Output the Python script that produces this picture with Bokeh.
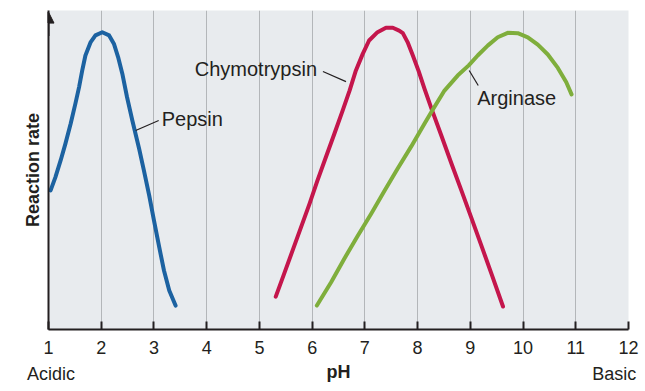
from bokeh.plotting import figure
from bokeh.models import Label, FixedTicker, Arrow, NormalHead, Range1d
from bokeh.embed import file_html
from bokeh.resources import INLINE

# pH values and reaction rates (arbitrary units 0-100)
pepsin_ph = [1.04, 1.13, 1.23, 1.32, 1.42, 1.51, 1.58, 1.64, 1.70, 1.80, 1.89, 2.02, 2.15, 2.24,
             2.32, 2.40, 2.49, 2.59, 2.72, 2.81, 2.91, 3.00, 3.10, 3.19, 3.29, 3.41]
pepsin_rate = [43.6, 47.7, 53.0, 58.2, 64.5, 70.8, 76.0, 81.2, 85.9, 90.1, 92.2, 93.2, 92.2, 89.6,
               85.4, 80.2, 72.8, 65.5, 56.6, 49.8, 42.0, 34.2, 25.8, 18.5, 12.2, 7.5]

chymo_ph = [5.31, 5.47, 5.63, 5.79, 5.95, 6.10, 6.26, 6.42, 6.58, 6.71, 6.83, 6.96, 7.08, 7.24, 7.40,
            7.53, 7.65, 7.72, 7.81, 7.91, 8.02, 8.13, 8.27, 8.45, 8.64, 8.83, 9.02, 9.21, 9.40, 9.62]
chymo_rate = [10.3, 17.5, 24.8, 32.1, 39.4, 46.7, 54.0, 61.3, 68.7, 74.9, 81.2, 86.4, 90.6, 93.2, 94.6,
              94.6, 93.7, 92.9, 90.1, 85.9, 81.0, 75.5, 68.9, 60.8, 52.1, 43.6, 35.0, 26.3, 17.5, 7.2]

arg_ph = [6.09, 6.36, 6.61, 6.86, 7.12, 7.37, 7.62, 7.88, 8.13, 8.27, 8.51, 8.76, 8.97, 9.14, 9.33,
          9.52, 9.71, 9.90, 10.09, 10.28, 10.47, 10.66, 10.82, 10.92]
arg_rate = [7.5, 14.8, 22.2, 29.2, 36.3, 43.4, 50.4, 57.4, 64.5, 68.4, 74.9, 79.6, 82.8, 85.9, 89.0,
            91.6, 93.0, 92.9, 91.6, 89.3, 86.2, 82.0, 77.5, 73.7]

ph_ticks = [1, 2, 3, 4, 5, 6, 7, 8, 9, 10, 11, 12]
grid_ticks = [2, 3, 4, 5, 6, 7, 8, 9, 10, 11, 12]
low_end = "Acidic"
high_end = "Basic"
high_end_pos = 11.73   # centre of the "Basic" caption under the axis

FONT = "Liberation Sans"
TXT = "#231f20"
NB = "\u00a0"

p = figure(width=640, height=388, output_backend="svg", toolbar_location=None,
           x_range=Range1d(1, 12), y_range=Range1d(0, 100),
           min_border_left=48, min_border_right=12, min_border_top=10, min_border_bottom=59)
p.background_fill_color = "#e8ebee"
p.border_fill_color = "white"
p.outline_line_color = None

p.xgrid.ticker = FixedTicker(ticks=grid_ticks)
p.xgrid.grid_line_color = "#b3b6b9"
p.xgrid.grid_line_width = 1
p.ygrid.grid_line_color = None

xa = p.xaxis[0]
# labels on major ticks (marks hidden); the visible tick marks are the minor ticks at each pH
xa.ticker = FixedTicker(ticks=ph_ticks + [high_end_pos], minor_ticks=ph_ticks)
overrides = {t: str(t) for t in ph_ticks}
overrides[1] = "1\n" + NB + low_end
overrides[high_end_pos] = "\n" + high_end
xa.major_label_overrides = overrides
xa.axis_line_color = TXT
xa.axis_line_width = 2
xa.major_tick_line_color = None
xa.minor_tick_in = 8
xa.minor_tick_out = 0
xa.minor_tick_line_width = 2
xa.minor_tick_line_color = TXT
xa.major_label_text_font = FONT
xa.major_label_text_font_size = "18px"
xa.major_label_text_line_height = 1.3
xa.major_label_text_color = TXT
xa.major_label_standoff = 2
xa.axis_label = "pH"
xa.axis_label_text_font = FONT
xa.axis_label_text_font_style = "bold"
xa.axis_label_text_font_size = "18px"
xa.axis_label_text_color = TXT
xa.axis_label_standoff = -25

ya = p.yaxis[0]
ya.ticker = FixedTicker(ticks=[])
ya.axis_line_color = TXT
ya.axis_line_width = 2
ya.major_tick_line_color = None
ya.minor_tick_line_color = None
ya.major_label_text_font_size = "0px"
ya.axis_label = "Reaction rate"
ya.axis_label_text_font = FONT
ya.axis_label_text_font_style = "bold"
ya.axis_label_text_font_size = "18px"
ya.axis_label_text_color = TXT
ya.axis_label_standoff = 6

p.add_layout(Arrow(end=NormalHead(size=11, fill_color=TXT, line_color=TXT),
                   x_start=1, y_start=92, x_end=1, y_end=99.5,
                   line_color=TXT, line_width=2))

p.line(pepsin_ph, pepsin_rate, line_color="#1c62a1", line_width=4, line_cap="round", line_join="round")
p.line(chymo_ph, chymo_rate, line_color="#c4164c", line_width=4, line_cap="round", line_join="round")
p.line(arg_ph, arg_rate, line_color="#7fae3c", line_width=4, line_cap="round", line_join="round")

# leader lines
p.segment(x0=[2.653, 6.205, 8.979], y0=[62.4, 80.9, 81.2],
          x1=[3.09, 6.642, 9.15], y1=[65.5, 77.7, 76.5], line_color=TXT, line_width=1.2)

for txt, x, y in [("Pepsin", 3.147, 66.1), ("Chymotrypsin", 3.774, 81.8), ("Arginase", 9.131, 72.7)]:
    p.add_layout(Label(x=x, y=y, text=txt, text_font=FONT, text_font_size="20px",
                       text_color=TXT, text_baseline="middle", text_align="left"))

open("out.html", "w").write(file_html(p, INLINE))
